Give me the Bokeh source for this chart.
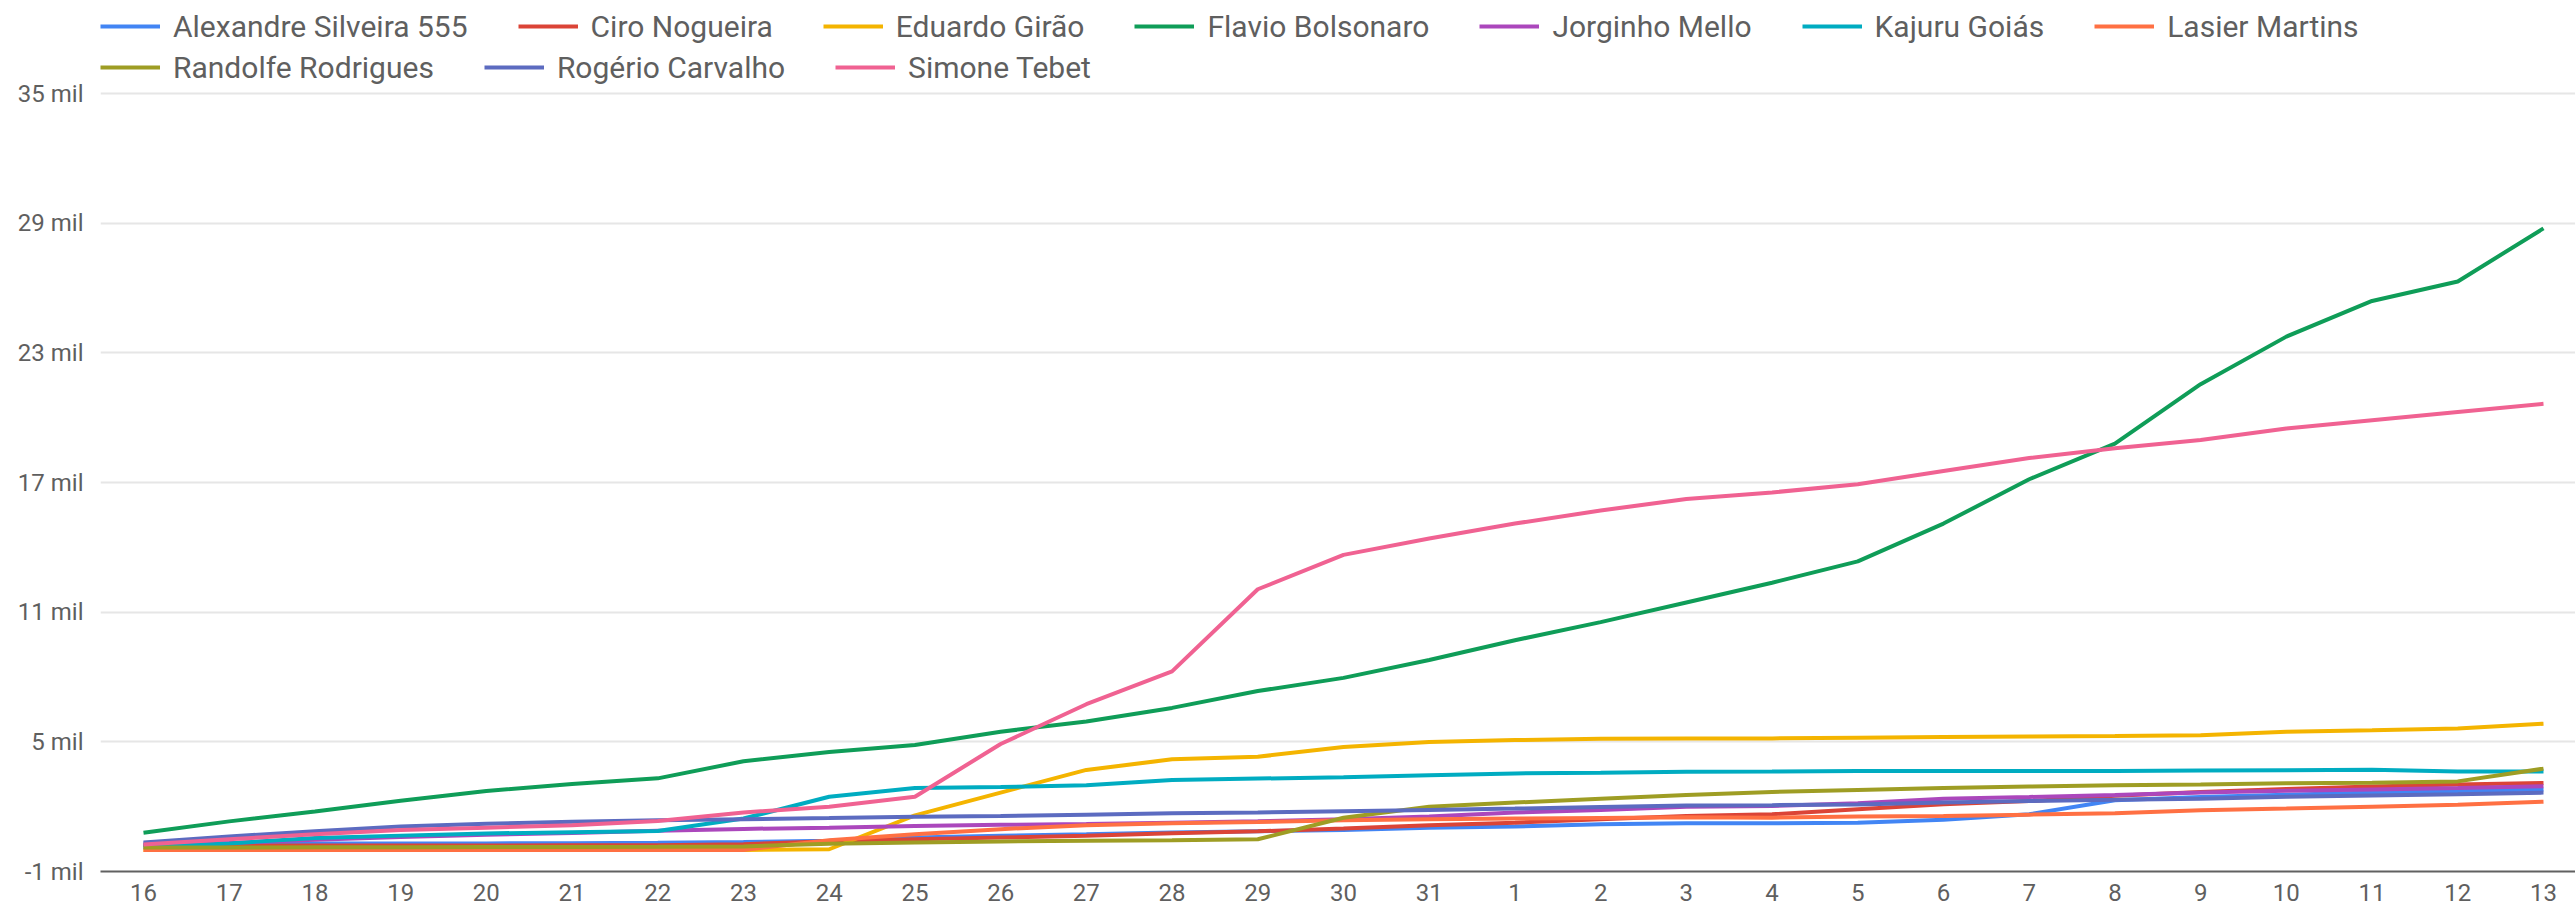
from bokeh.plotting import figure
from bokeh.models import Range1d, FixedTicker, Legend, LegendItem
from bokeh.embed import file_html
from bokeh.resources import INLINE

days = ["16", "17", "18", "19", "20", "21", "22", "23", "24", "25", "26", "27", "28", "29", "30", "31",
        "1", "2", "3", "4", "5", "6", "7", "8", "9", "10", "11", "12", "13"]

# values in thousands ("mil")
alexandre = [0.30, 0.30, 0.30, 0.30, 0.30, 0.31, 0.33, 0.36, 0.42, 0.57, 0.65, 0.72, 0.80, 0.86, 0.92, 1.03,
             1.08, 1.19, 1.23, 1.23, 1.26, 1.39, 1.65, 2.30, 2.45, 2.55, 2.65, 2.72, 2.80]
ciro = [0.20, 0.20, 0.20, 0.20, 0.20, 0.21, 0.22, 0.26, 0.40, 0.49, 0.57, 0.65, 0.77, 0.86, 0.99, 1.14,
        1.26, 1.42, 1.57, 1.65, 1.88, 2.11, 2.26, 2.50, 2.68, 2.82, 2.93, 3.02, 3.10]
eduardo = [0.0, 0.0, 0.0, 0.0, 0.0, 0.0, 0.0, 0.0, 0.03, 1.60, 2.65, 3.70, 4.19, 4.31, 4.76, 4.99,
           5.08, 5.14, 5.16, 5.16, 5.19, 5.22, 5.25, 5.27, 5.31, 5.47, 5.54, 5.62, 5.84]
flavio = [0.79, 1.32, 1.78, 2.27, 2.73, 3.05, 3.31, 4.10, 4.53, 4.85, 5.47, 5.94, 6.57, 7.35, 7.96, 8.79,
          9.70, 10.54, 11.45, 12.36, 13.35, 15.10, 17.15, 18.80, 21.55, 23.75, 25.40, 26.30, 28.76]
jorginho = [0.22, 0.32, 0.47, 0.60, 0.70, 0.78, 0.88, 0.97, 1.03, 1.11, 1.16, 1.20, 1.26, 1.32, 1.42, 1.54,
            1.73, 1.85, 2.00, 2.03, 2.16, 2.37, 2.45, 2.54, 2.65, 2.74, 2.80, 2.86, 2.95]
kajuru = [0.12, 0.30, 0.55, 0.66, 0.76, 0.82, 0.87, 1.45, 2.46, 2.86, 2.91, 2.99, 3.23, 3.30, 3.36, 3.45,
          3.54, 3.57, 3.62, 3.63, 3.65, 3.65, 3.65, 3.65, 3.67, 3.69, 3.71, 3.63, 3.63]
lasier = [0.0, 0.0, 0.0, 0.0, 0.0, 0.0, 0.0, 0.0, 0.45, 0.72, 0.96, 1.14, 1.23, 1.29, 1.37, 1.42,
          1.45, 1.48, 1.51, 1.49, 1.54, 1.57, 1.63, 1.69, 1.83, 1.91, 2.00, 2.09, 2.23]
randolfe = [0.11, 0.11, 0.12, 0.12, 0.13, 0.13, 0.14, 0.16, 0.28, 0.34, 0.39, 0.42, 0.45, 0.49, 1.49, 2.00,
            2.19, 2.37, 2.54, 2.68, 2.77, 2.86, 2.93, 2.99, 3.02, 3.08, 3.11, 3.17, 3.76]
rogerio = [0.34, 0.62, 0.86, 1.08, 1.21, 1.30, 1.37, 1.42, 1.47, 1.53, 1.57, 1.63, 1.69, 1.73, 1.79, 1.85,
           1.91, 1.99, 2.05, 2.07, 2.10, 2.19, 2.26, 2.32, 2.37, 2.46, 2.52, 2.57, 2.65]
simone = [0.25, 0.49, 0.72, 0.92, 1.03, 1.14, 1.34, 1.73, 2.00, 2.46, 4.90, 6.74, 8.26, 12.06, 13.65, 14.41,
          15.10, 15.70, 16.24, 16.54, 16.92, 17.53, 18.13, 18.59, 18.97, 19.50, 19.88, 20.26, 20.64]

names = ["Alexandre Silveira 555", "Ciro Nogueira", "Eduardo Girão", "Flavio Bolsonaro", "Jorginho Mello",
         "Kajuru Goiás", "Lasier Martins", "Randolfe Rodrigues", "Rogério Carvalho", "Simone Tebet"]
values = [alexandre, ciro, eduardo, flavio, jorginho, kajuru, lasier, randolfe, rogerio, simone]
colors = ["#4285F4", "#DB4437", "#F4B400", "#0F9D58", "#AB47BC", "#00ACC1", "#FF7043", "#9E9D24",
          "#5C6BC0", "#F06292"]

y_ticks = [-1, 5, 11, 17, 23, 29, 35]

FONT = "Roboto"
TXT = "#5f5f5f"

W, H = 2575, 911
LEFT, BOTTOM = 100, 40
FRAME_H = H - BOTTOM            # frame spans from the top of the figure
TOP_GRID = 93                   # pixel row of the 35 mil gridline
per_unit = (FRAME_H - TOP_GRID) / 36.0
y_end = 35 + TOP_GRID / per_unit

per_x = 85.714
x_start = -(143 - LEFT) / per_x
x_end = x_start + (W - LEFT) / per_x

p = figure(width=W, height=H, output_backend="svg", toolbar_location=None,
           x_range=Range1d(x_start, x_end), y_range=Range1d(-1, y_end),
           min_border_left=LEFT, min_border_right=0, min_border_top=0, min_border_bottom=BOTTOM)
p.outline_line_color = None
p.background_fill_color = "white"
p.border_fill_color = "white"

xs = list(range(len(days)))
renderers = []
for name, vals, col in zip(names, values, colors):
    r = p.line(xs, vals, line_color=col, line_width=4)
    renderers.append(r)

# axes
p.xaxis.ticker = FixedTicker(ticks=xs)
p.xaxis.major_label_overrides = {i: d for i, d in enumerate(days)}
p.xaxis.major_tick_in = 0
p.xaxis.major_tick_out = 0
p.xaxis.minor_tick_in = 0
p.xaxis.minor_tick_out = 0
p.xaxis.axis_line_color = "#616161"
p.xaxis.axis_line_width = 2
p.xaxis.major_label_standoff = 12
p.xaxis.major_label_text_font = FONT
p.xaxis.major_label_text_font_size = "24px"
p.xaxis.major_label_text_color = TXT

p.yaxis.ticker = FixedTicker(ticks=y_ticks)
p.yaxis.major_label_overrides = {t: f"{t} mil" for t in y_ticks}
p.yaxis.major_tick_in = 0
p.yaxis.major_tick_out = 0
p.yaxis.minor_tick_in = 0
p.yaxis.minor_tick_out = 0
p.yaxis.axis_line_color = None
p.yaxis.major_label_standoff = 17
p.yaxis.major_label_text_font = FONT
p.yaxis.major_label_text_font_size = "24px"
p.yaxis.major_label_text_color = TXT

p.xgrid.grid_line_color = None
p.ygrid.ticker = FixedTicker(ticks=y_ticks[1:])
p.ygrid.grid_line_color = "#e6e6e6"
p.ygrid.grid_line_width = 2

ROW_H = 36

def make_legend(idx, center_y):
    items = [LegendItem(label=names[i], renderers=[renderers[i]]) for i in idx]
    bottom = center_y + ROW_H / 2
    vy = int(round(FRAME_H - bottom))
    return Legend(items=items, orientation="horizontal", location=(0, vy),
                  glyph_width=60, glyph_height=ROW_H, label_height=ROW_H, label_standoff=13,
                  spacing=50, padding=0, margin=0, border_line_color=None,
                  background_fill_alpha=0, label_text_font=FONT,
                  label_text_font_size="30px", label_text_color=TXT)

p.add_layout(make_legend(range(0, 7), 26))
p.add_layout(make_legend(range(7, 10), 67))

open("out.html", "w").write(file_html(p, INLINE))
